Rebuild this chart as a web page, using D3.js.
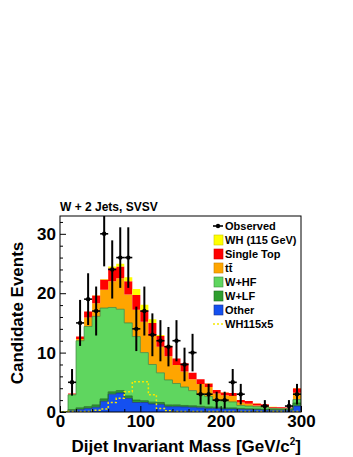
<html>
<head>
<script src="https://d3js.org/d3.v7.min.js"></script>
<style>
body { margin: 0; background: #fff; }
text { font-family: "Liberation Sans", Arial, Helvetica, sans-serif; font-weight: bold; fill: #000; }
</style>
</head>
<body>
<svg id="chart" width="353" height="457"></svg>
<script>
// lower edges of the 10 GeV bins
var binLow = [0, 10, 20, 30, 40, 50, 60, 70, 80, 90, 100, 110, 120, 130, 140,
              150, 160, 170, 180, 190, 200, 210, 220, 230, 240, 250, 260, 270, 280, 290];

var other = [0, 0.2, 0.4, 0.6, 0.8, 1.8, 3.0, 3.2, 2.3, 1.6, 1.6, 1.35, 1.3, 0.9, 0.9,
             0.85, 0.8, 0.7, 0.6, 0.6, 0.5, 0.5, 0.45, 0.4, 0.4, 0.35, 0.3, 0.3, 0.3, 1.0];
var wlf = [0, 0.2, 0.3, 0.3, 0.4, 0.4, 0.4, 0.4, 0.4, 0.4, 0.3, 0.3, 0.3, 0.3, 0.3,
           0.25, 0.25, 0.25, 0.25, 0.2, 0.2, 0.2, 0.15, 0.15, 0.1, 0.1, 0.1, 0.1, 0.1, 0.5];
var whf = [0, 2.5, 11.3, 13.5, 14.9, 15.3, 14.2, 13.7, 12.3, 10.7, 8.1, 6.35, 5.0, 4.2, 3.6,
           3.1, 2.55, 2.05, 1.75, 1.2, 1.1, 1.0, 0.5, 0.45, 0.4, 0.35, 0.2, 0.15, 0.15, 0.6];
var ttbar = [0, 0.1, 0.3, 1.5, 2.2, 3.1, 4.4, 5.2, 4.8, 4.5, 5.2, 4.8, 4.4, 4.0, 3.1,
             2.6, 1.9, 1.7, 1.6, 1.1, 1.0, 1.0, 0.5, 0.4, 0.2, 0.2, 0.1, 0.1, 0.05, 1.15];
var singleTop = [0, 0.1, 0.4, 1.0, 1.3, 1.7, 2.2, 2.0, 2.2, 2.5, 1.9, 2.2, 1.8, 1.7, 1.1,
                 1.4, 1.1, 0.8, 0.6, 0.6, 0.5, 0.5, 0.4, 0.45, 0.35, 0.3, 0.15, 0.15, 0.15, 0.75];
var wh = [0, 0.02, 0.02, 0.02, 0.06, 0.1, 0.3, 0.45, 0.7, 1.0, 0.95, 0.6, 0.15, 0.05, 0.02,
          0.02, 0.02, 0.02, 0.02, 0.02, 0.02, 0.02, 0.02, 0.02, 0.02, 0.02, 0.02, 0.02, 0.02, 0.02];
var wh115x5 = [0.05, 0.1, 0.1, 0.1, 0.3, 0.5, 1.6, 2.3, 3.4, 5.1, 5.1, 2.9, 0.6, 0.2, 0.1,
               0.1, 0.1, 0.1, 0.1, 0.1, 0.1, 0.1, 0.1, 0.1, 0.1, 0.1, 0.1, 0.1, 0.1, 0.1];
var observed = [0, 5, 15, 19, 17, 30, 24, 26, 26, 14, 17, 13, 12, 11, 12,
                8, 10, 3, 3, 2, 2, 5, 3, 0, 0, 1, 0, 0, 1, 3];

var xTicks = [0, 100, 200, 300];
var yTicks = [0, 10, 20, 30];
var legendLabels = ["Observed", "WH (115 GeV)", "Single Top", "tt\u0304", "W+HF", "W+LF", "Other", "WH115x5"];

var keys = ["other", "wlf", "whf", "ttbar", "singleTop", "wh"];
var colors = { other: "#1450f0", wlf: "#2e9e2e", whf: "#5fd65f", ttbar: "#ffa500", singleTop: "#ff0000", wh: "#ffff00" };
var outlines = { other: "#1a2f8a", wlf: "#1f6b1f", whf: "#3f8a3f", ttbar: "#c98200", singleTop: "#d00000", wh: "#c8c800" };

var rows = binLow.map(function (lo, i) {
    return { lo: lo, hi: lo + 10, other: other[i], wlf: wlf[i], whf: whf[i],
             ttbar: ttbar[i], singleTop: singleTop[i], wh: wh[i] };
});
var series = d3.stack().keys(keys)(rows);

var svg = d3.select("#chart");
var x = d3.scaleLinear().domain([0, 300]).range([60, 301]);
var y = d3.scaleLinear().domain([0, 33]).range([412, 216]);

svg.append("clipPath").attr("id", "plotclip").append("rect")
    .attr("x", 60).attr("y", 216).attr("width", 241).attr("height", 196);

function steps(s) {
    var pts = [];
    s.forEach(function (d) {
        pts.push({ x: d.data.lo, y0: d[0], y1: d[1] });
        pts.push({ x: d.data.hi, y0: d[0], y1: d[1] });
    });
    return pts;
}
var area = d3.area().x(function (p) { return x(p.x); })
    .y0(function (p) { return y(p.y0); }).y1(function (p) { return y(p.y1); });
var topLine = d3.line().x(function (p) { return x(p.x); }).y(function (p) { return y(p.y1); });

var plot = svg.append("g").attr("clip-path", "url(#plotclip)");
series.forEach(function (s) {
    var pts = steps(s);
    plot.append("path").attr("d", area(pts)).attr("fill", colors[s.key]);
});
series.forEach(function (s) {
    if (s.key == "wh" || s.key == "singleTop" || s.key == "ttbar") return;
    plot.append("path").attr("d", topLine(steps(s))).attr("fill", "none")
        .attr("stroke", outlines[s.key]).attr("stroke-width", 0.8);
});

// WH x5, not stacked
var whPts = [];
binLow.forEach(function (lo, i) {
    whPts.push({ x: lo, y1: wh115x5[i] });
    whPts.push({ x: lo + 10, y1: wh115x5[i] });
});
plot.append("path").attr("d", topLine(whPts)).attr("fill", "none")
    .attr("stroke", "#f5e800").attr("stroke-width", 1.5).attr("stroke-dasharray", "2,2");

// observed with sqrt(N) errors
var obs = plot.selectAll("g.obs").data(rows.filter(function (d, i) { return observed[i] > 0; }).map(function (d) {
    return { lo: d.lo, hi: d.hi, n: observed[binLow.indexOf(d.lo)] };
})).enter().append("g");
obs.append("line")
    .attr("x1", function (d) { return x(d.lo); }).attr("x2", function (d) { return x(d.hi); })
    .attr("y1", function (d) { return y(d.n); }).attr("y2", function (d) { return y(d.n); })
    .attr("stroke", "#000").attr("stroke-width", 1.6);
obs.append("line")
    .attr("x1", function (d) { return x(d.lo + 5); }).attr("x2", function (d) { return x(d.lo + 5); })
    .attr("y1", function (d) { return y(d.n - Math.sqrt(d.n)); }).attr("y2", function (d) { return y(d.n + Math.sqrt(d.n)); })
    .attr("stroke", "#000").attr("stroke-width", 2);
obs.append("circle")
    .attr("cx", function (d) { return x(d.lo + 5); }).attr("cy", function (d) { return y(d.n); })
    .attr("r", 2.2).attr("fill", "#000");

// frame
svg.append("rect").attr("x", 60).attr("y", 216).attr("width", 241).attr("height", 196)
    .attr("fill", "none").attr("stroke", "#000").attr("stroke-width", 1);

// axes
var yMinor = svg.append("g").attr("transform", "translate(60,0)")
    .call(d3.axisLeft(y).tickValues([2, 4, 6, 8, 12, 14, 16, 18, 22, 24, 26, 28, 32]).tickSize(-3).tickFormat(""));
var yAxis = svg.append("g").attr("transform", "translate(60,0)")
    .call(d3.axisLeft(y).tickValues(yTicks).tickSize(-6).tickPadding(4));
var xMinor = svg.append("g").attr("transform", "translate(0,412)")
    .call(d3.axisBottom(x).tickValues([20, 40, 60, 80, 120, 140, 160, 180, 220, 240, 260, 280]).tickSize(-3).tickFormat(""));
var xAxis = svg.append("g").attr("transform", "translate(0,412)")
    .call(d3.axisBottom(x).tickValues(xTicks).tickSize(-6).tickPadding(2.5));
svg.selectAll(".domain").remove();
svg.selectAll(".tick line").attr("stroke", "#000");
svg.selectAll(".tick text").style("font-size", "17px").style("font-family", "Liberation Sans, Arial, sans-serif")
    .style("font-weight", "bold").attr("fill", "#000");

// titles
svg.append("text").attr("x", 60).attr("y", 211).style("font-size", "12px").text("W + 2 Jets, SVSV");
svg.append("text").attr("transform", "translate(23,313) rotate(-90)").attr("text-anchor", "middle")
    .style("font-size", "17px").text("Candidate Events");
var xt = svg.append("text").attr("x", 301).attr("y", 452).attr("text-anchor", "end").style("font-size", "17px");
xt.append("tspan").text("Dijet Invariant Mass [GeV/c");
xt.append("tspan").attr("dy", -7).style("font-size", "10px").text("2");
xt.append("tspan").attr("dy", 7).text("]");

// legend
var legendFill = [null, colors.wh, colors.singleTop, colors.ttbar, colors.whf, colors.wlf, colors.other, null];
var legendLine = [null, outlines.wh, outlines.singleTop, outlines.ttbar, outlines.whf, outlines.wlf, outlines.other, null];
var leg = svg.append("g");
legendLabels.forEach(function (label, i) {
    var cy = 226 + 14 * i;
    if (i == 0) {
        leg.append("line").attr("x1", 213).attr("x2", 223).attr("y1", cy).attr("y2", cy)
            .attr("stroke", "#000").attr("stroke-width", 1.6);
        leg.append("circle").attr("cx", 218).attr("cy", cy).attr("r", 2.2).attr("fill", "#000");
    } else if (i == 7) {
        leg.append("line").attr("x1", 213).attr("x2", 223).attr("y1", cy).attr("y2", cy)
            .attr("stroke", "#f5e800").attr("stroke-width", 1.5).attr("stroke-dasharray", "2,2");
    } else {
        leg.append("rect").attr("x", 214).attr("y", cy - 5).attr("width", 9).attr("height", 10)
            .attr("fill", legendFill[i]).attr("stroke", legendLine[i]).attr("stroke-width", 0.6);
    }
    leg.append("text").attr("x", 225).attr("y", cy).attr("dy", "0.36em")
        .style("font-size", "11px").text(label);
});
</script>
</body>
</html>
